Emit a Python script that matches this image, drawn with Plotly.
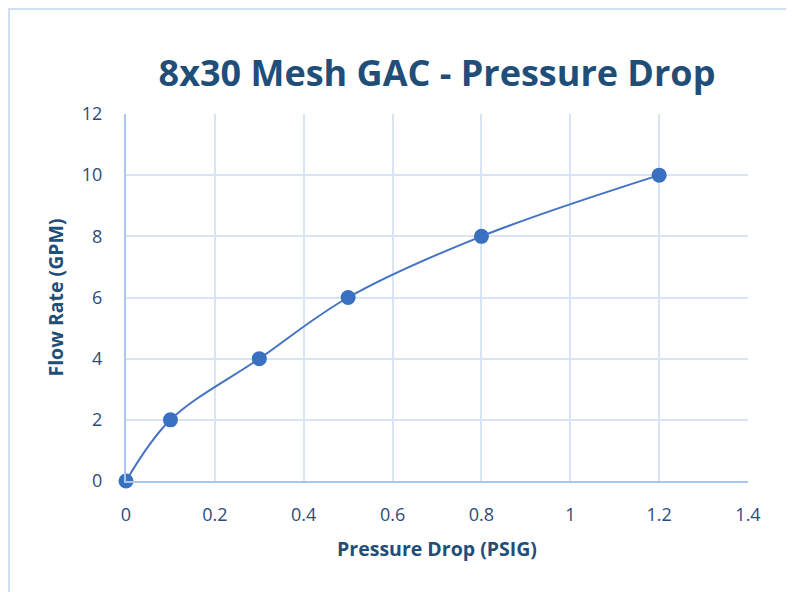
import plotly.graph_objects as go

pressure_drop = [0, 0.1, 0.3, 0.5, 0.8, 1.2]
flow_rate = [0, 2, 4, 6, 8, 10]
x_ticks = [0, 0.2, 0.4, 0.6, 0.8, 1, 1.2, 1.4]
x_tick_text = ["0", "0.2", "0.4", "0.6", "0.8", "1", "1.2", "1.4"]
y_ticks = [0, 2, 4, 6, 8, 10, 12]

# page body has an 8px margin, so figure coords = screen coords - 8
W, H = 786, 584
L, T = 118, 106
R = W - 740
B = H - 473
pw, ph = W - L - R, H - T - B

dark = "#1F4E79"
tick_col = "#2B4C7E"
line_col = "#4472C4"
grid_col = "#D9E5F5"
axis_col = "#A9C6EC"

fig = go.Figure()
fig.add_trace(go.Scatter(
    x=pressure_drop, y=flow_rate, mode="lines+markers",
    line=dict(color=line_col, width=2, shape="spline", smoothing=1.0),
    marker=dict(size=15, color="#3A70C0", line=dict(width=0)),
    cliponaxis=False, showlegend=False, hoverinfo="x+y"))

fig.update_layout(
    width=W, height=H,
    margin=dict(l=L, r=R, t=T, b=B),
    paper_bgcolor="white", plot_bgcolor="white",
    font=dict(family="Open Sans", color=tick_col),
    title=dict(text="<b>8x30 Mesh GAC - Pressure Drop</b>",
               x=(437 - 8) / W, xanchor="center", y=1 - 65 / H, yanchor="middle",
               font=dict(size=36, color=dark, family="Open Sans")),
    xaxis=dict(range=[0, 1.4], tickvals=x_ticks, ticktext=x_tick_text,
               showgrid=True, gridcolor=grid_col, gridwidth=2,
               showline=True, linecolor=axis_col, linewidth=2,
               zeroline=False, ticks="", ticklabelstandoff=16,
               tickfont=dict(size=18, color=tick_col),
               title=dict(text="<b>Pressure Drop (PSIG)</b>", standoff=18,
                          font=dict(size=19.5, color=dark))),
    yaxis=dict(range=[0, 12], tickvals=y_ticks,
               showgrid=True, gridcolor=grid_col, gridwidth=2,
               showline=True, linecolor=axis_col, linewidth=2,
               zeroline=False, ticks="", ticklabelstandoff=18,
               tickfont=dict(size=18, color=tick_col),
               title=dict(text="<b>Flow Rate (GPM)</b>", standoff=13,
                          font=dict(size=19.5, color=dark))),
)

# chart outer border
x0 = (1 - L) / pw
x1 = (785 - L) / pw
y1 = (H - B - 1) / ph
y0 = (H - B - 620) / ph
fig.add_shape(type="rect", xref="paper", yref="paper", x0=x0, x1=x1, y0=y0, y1=y1,
              line=dict(color="#D0DFF3", width=2), fillcolor="rgba(0,0,0,0)", layer="below")

fig.write_html("out.html")
